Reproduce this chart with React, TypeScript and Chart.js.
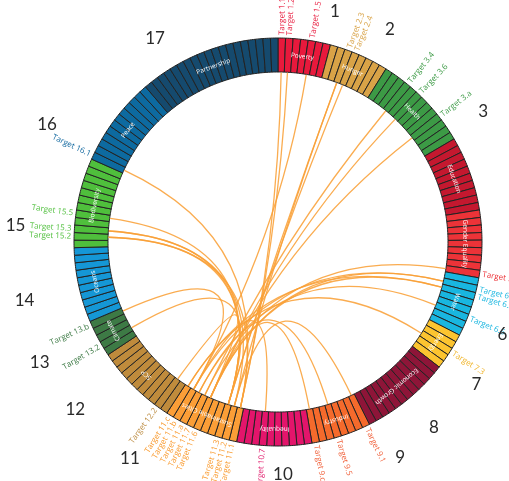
import React, { useEffect, useRef } from 'react';
import { Chart, ArcElement, DoughnutController } from 'chart.js';

Chart.register(ArcElement, DoughnutController);

// ---- data ----
const goalNames = [
  'Poverty', 'Hunger', 'Health', 'Education', 'Gender Equality', 'Water', 'Energy',
  'Economic Growth', 'Industry', 'Inequality', 'Sustainable Cities', 'SCP', 'Climate',
  'Oceans', 'Biodiversity', 'Peace', 'Partnership',
];
const numberedTargets = [5, 5, 9, 7, 6, 6, 3, 10, 5, 7, 7, 8, 3, 7, 9, 10, 19];
const letteredTargets = [2, 3, 4, 3, 3, 2, 2, 2, 3, 3, 3, 3, 2, 3, 3, 2, 0];
const goalNumbers = ['1', '2', '3', '4', '5', '6', '7', '8', '9', '10', '11', '12', '13', '14', '15', '16', '17'];

// links between Goal 11 targets and other targets
const links: [string, string][] = [
  ['1.1', '11.1'], ['1.2', '11.1'], ['1.5', '11.b'],
  ['2.3', '11.3'], ['2.3', '11.2'], ['2.4', '11.3'],
  ['3.4', '11.7'], ['3.6', '11.6'], ['3.a', '11.6'],
  ['5.c', '11.7'],
  ['6.2', '11.6'], ['6.2', '11.b'], ['6.3', '11.6'], ['6.3', '11.c'],
  ['6.6', '11.a'],
  ['7.3', '11.c'],
  ['9.1', '11.2'], ['9.5', '11.a'], ['9.c', '11.6'],
  ['10.7', '11.b'],
  ['12.2', '11.6'],
  ['13.2', '11.3'], ['13.b', '11.b'],
  ['15.2', '11.1'], ['15.2', '11.3'], ['15.3', '11.2'], ['15.3', '11.3'], ['15.5', '11.3'],
  ['16.1', '11.1'],
];

// ---- styles / layout ----
const goalColors = [
  '#e8193c', '#d9a347', '#3c9a45', '#c4182f', '#ec3338', '#19b6e0', '#fcc430',
  '#8e1538', '#f56a2c', '#e3156b', '#fb9e37', '#bf8b3c', '#3d7a45',
  '#1597d6', '#4fbf3c', '#0d6aa0', '#154a6e',
];
const labelColors = [
  '#e8193c', '#d9a347', '#3c9a45', '#c4182f', '#ec3338', '#19b6e0', '#f0b52b',
  '#8e1538', '#f0603a', '#e01a6b', '#f99a2e', '#bf9048', '#3d7a45',
  '#1597d6', '#4fbf3c', '#1369a0', '#154a6e',
];
// goal number label placement: [angle clockwise from top in degrees, radius px]
const numberPlacement: [number, number][] = [
  [13.9, 237], [27.8, 240], [57.6, 243], [76, 246], [95, 250], [112.5, 243], [125.6, 244],
  [139.9, 242], [150.5, 248], [178.8, 233], [214.4, 262], [230.4, 263], [243.2, 267],
  [257.1, 260], [273.7, 263], [296.9, 259], [328.9, 238],
];

function buildCodes(): string[] {
  const letters = 'abcd';
  const codes: string[] = [];
  for (let g = 0; g < goalNames.length; g++) {
    for (let i = 1; i <= numberedTargets[g]; i++) codes.push(`${g + 1}.${i}`);
    for (let j = 0; j < letteredTargets[g]; j++) codes.push(`${g + 1}.${letters[j]}`);
  }
  return codes;
}

export default function App() {
  const ref = useRef<HTMLCanvasElement>(null);

  useEffect(() => {
    const codes = buildCodes();
    const goalOf = codes.map((c) => parseInt(c.split('.')[0], 10) - 1);
    const labeled = new Set<string>();
    links.forEach(([a, b]) => { labeled.add(a); labeled.add(b); });

    const sdgPlugin = {
      id: 'sdgChord',
      afterDatasetsDraw(chart: any) {
        const ctx: CanvasRenderingContext2D = chart.ctx;
        const arcs = chart.getDatasetMeta(0).data as any[];
        if (!arcs.length) return;
        const cx = arcs[0].x;
        const cy = arcs[0].y;
        const ri = arcs[0].innerRadius;
        const ro = arcs[0].outerRadius;
        const mid = (i: number) => (arcs[i].startAngle + arcs[i].endAngle) / 2;

        // chords
        ctx.save();
        ctx.strokeStyle = 'rgba(249,160,56,0.88)';
        ctx.lineWidth = 1.3;
        links.forEach(([a, b]) => {
          const ia = codes.indexOf(a);
          const ib = codes.indexOf(b);
          const aa = mid(ia);
          const ab = mid(ib);
          const r = ri - 0.5;
          ctx.beginPath();
          ctx.moveTo(cx + r * Math.cos(aa), cy + r * Math.sin(aa));
          ctx.quadraticCurveTo(cx, cy, cx + r * Math.cos(ab), cy + r * Math.sin(ab));
          ctx.stroke();
        });
        ctx.restore();

        // goal names inside ring
        ctx.save();
        ctx.fillStyle = '#ffffff';
        ctx.font = '6.5px "Open Sans", sans-serif';
        ctx.textAlign = 'center';
        ctx.textBaseline = 'middle';
        let start = 0;
        for (let g = 0; g < goalNames.length; g++) {
          const n = numberedTargets[g] + letteredTargets[g];
          const a0 = arcs[start].startAngle;
          const a1 = arcs[start + n - 1].endAngle;
          const a = (a0 + a1) / 2;
          const r = (ri + ro) / 2;
          ctx.save();
          ctx.translate(cx + r * Math.cos(a), cy + r * Math.sin(a));
          ctx.rotate(a + Math.PI / 2);
          ctx.fillText(goalNames[g], 0, 0);
          ctx.restore();
          start += n;
        }
        ctx.restore();

        // target labels
        ctx.save();
        ctx.font = '8px "Open Sans", sans-serif';
        ctx.textBaseline = 'middle';
        codes.forEach((code, i) => {
          if (!labeled.has(code)) return;
          const a = mid(i);
          let theta = a + Math.PI / 2;
          theta = ((theta % (2 * Math.PI)) + 2 * Math.PI) % (2 * Math.PI);
          const r = ro + 3;
          ctx.save();
          ctx.fillStyle = labelColors[goalOf[i]];
          ctx.translate(cx + r * Math.cos(a), cy + r * Math.sin(a));
          if (theta < Math.PI) {
            ctx.rotate(a);
            ctx.textAlign = 'left';
          } else {
            ctx.rotate(a + Math.PI);
            ctx.textAlign = 'right';
          }
          ctx.fillText(`Target ${code}`, 0, 0);
          ctx.restore();
        });
        ctx.restore();

        // goal numbers
        ctx.save();
        ctx.fillStyle = '#2a2a2a';
        ctx.font = '17px Lato, "Open Sans", sans-serif';
        ctx.textAlign = 'center';
        ctx.textBaseline = 'middle';
        goalNumbers.forEach((num, g) => {
          const [deg, r] = numberPlacement[g];
          const a = (deg - 90) * Math.PI / 180;
          ctx.fillText(num, cx + r * Math.cos(a), cy + r * Math.sin(a));
        });
        ctx.restore();
      },
    };

    const cutoutPct = `${(170 / 204) * 100}%`;
    const chart = new Chart(ref.current as HTMLCanvasElement, {
      type: 'doughnut',
      data: {
        labels: codes,
        datasets: [{
          data: codes.map(() => 1),
          backgroundColor: goalOf.map((g) => goalColors[g]),
          borderColor: '#222222',
          borderWidth: 1,
          borderJoinStyle: 'miter',
          radius: 204,
          cutout: cutoutPct,
        } as any],
      },
      options: {
        responsive: false,
        maintainAspectRatio: false,
        animation: false,
        events: [],
        radius: 204,
        cutout: cutoutPct,
        layout: { padding: { left: 47, right: 0, top: 3, bottom: 0 } },
        plugins: { legend: { display: false }, tooltip: { enabled: false } },
      } as any,
      plugins: [sdgPlugin],
    });
    return () => chart.destroy();
  }, []);

  return (
    <div style={{ position: 'absolute', left: 0, top: 0, width: 509, height: 481, background: '#ffffff' }}>
      <canvas ref={ref} width={509} height={481} style={{ display: 'block' }} />
    </div>
  );
}
